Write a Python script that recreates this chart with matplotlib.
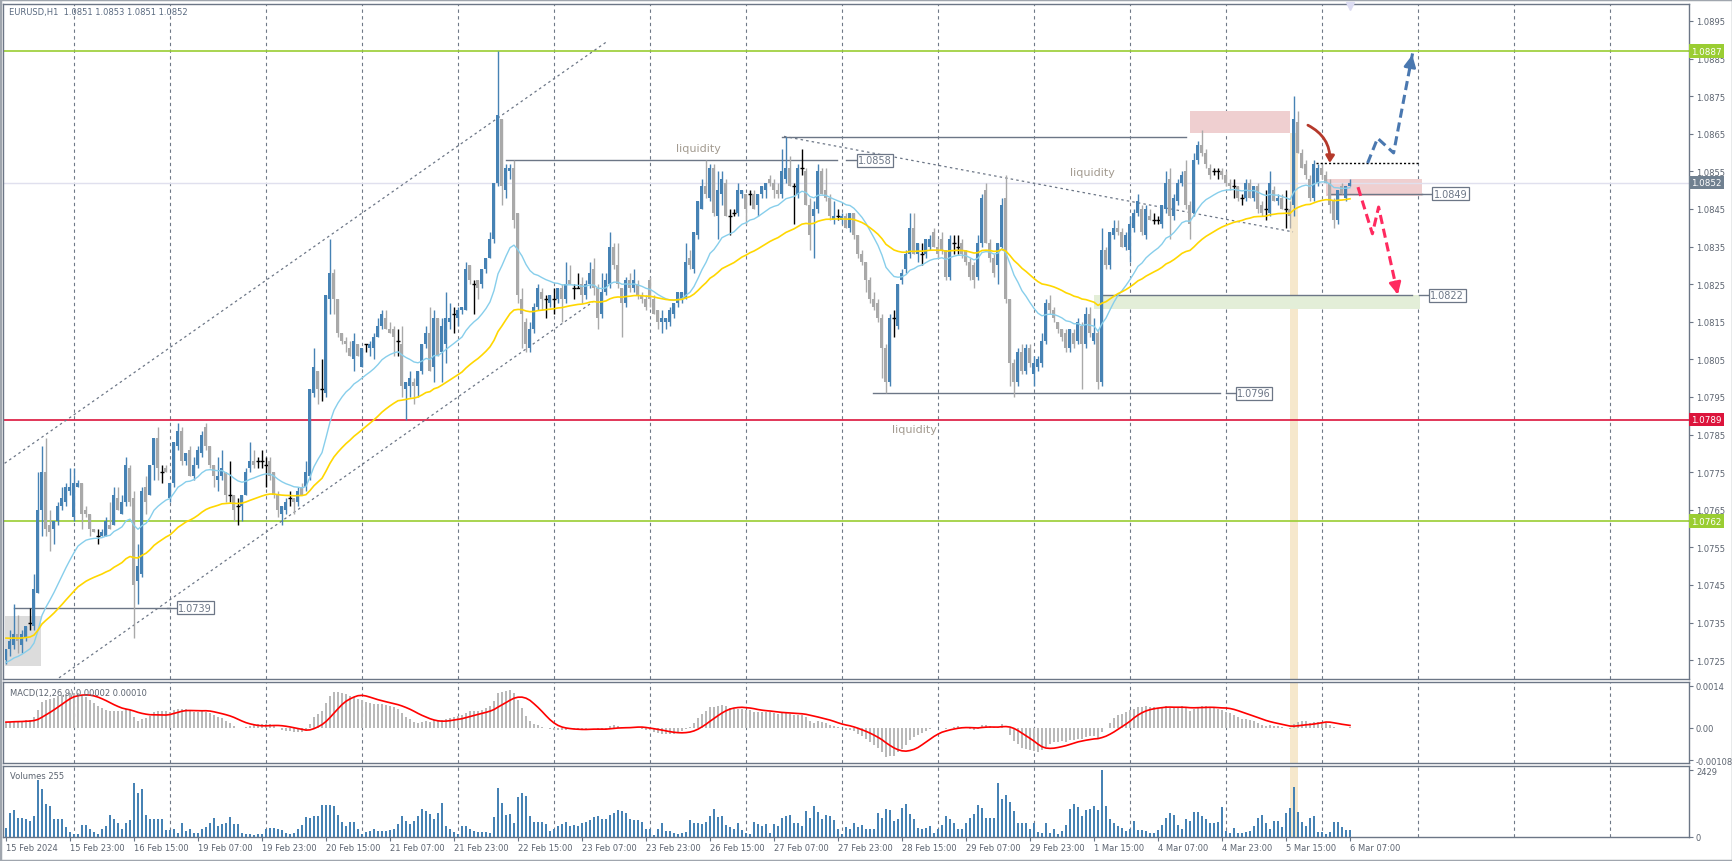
import numpy as np
import pandas as pd
import matplotlib
matplotlib.use('Agg')
import matplotlib.pyplot as plt
from matplotlib.patches import Rectangle, FancyArrowPatch

# EURUSD H1 candles, values in pips above 1.0700
BASE = 1.07
PIP = 0.0001
o_pips = [25,28,29,32,29,31,35,34,43,65, 75,61,60,62,66,67,70,63,71,72,
          65,64,60,58,58,58,61,61,68,64, 67,76,68,46,48,71,69,77,84,75,
          76,68,72,82,86,78,81,74,77,80, 87,82,77,73,74,75,69,69,66,66,
          69,76,78,78,78,77,78,75,69,64, 65,68,68,67,71,71,74,96,102,97,
          96,121,128,121,112,110,108,105,109,103, 109,108,108,111,114,116,113,113,110,109,
          97,98,99,98,102,109,112,103,116,107, 109,115,117,116,118,118,130,125,126,125,
          129,132,137,152,169,150,155,156,144,121, 115,108,113,119,123,121,120,121,121,124,
          121,126,124,124,125,122,125,129,124,117, 123,125,135,130,124,120,126,124,125,122,
          121,126,121,118,115,115,115,117,120,121, 121,132,129,138,145,151,148,156,143,149,
          152,143,144,144,149,149,149,149,146,149, 150,153,152,150,149,153,156,151,149,156,
          155,146,143,145,155,150,148,142,143,142, 143,140,144,138,133,131,126,121,120,116,
          108,99,116,114,126,129,133,140,133,133, 133,135,139,135,137,134,127,136,135,136,
          134,131,130,127,136,150,136,132,130,135, 148,121,104,99,107,102,108,101,103,104,
          110,120,118,115,113,112,108,112,110,114, 109,117,110,112,99,134,130,138,140,139,
          135,134,140,144,145,138,143,142,142,141, 145,153,143,147,152,155,146,144,158,162,
          160,156,155,155,155,154,152,151,151,148, 148,152,148,151,146,145,144,150,147,148,
          145,145,146,168,160,157,153,148,152,156, 154,152,147,142,151,148,151]
h_pips = [28,33,40,37,33,34,39,48,75,82, 84,65,62,67,71,72,76,76,73,72,
          66,64,60,60,60,63,67,71,71,69, 79,77,70,56,71,74,77,84,87,77,
          77,72,83,88,87,80,82,79,82,86, 88,82,77,79,81,75,78,69,68,69,
          76,83,81,79,81,79,79,75,70,66, 68,70,68,71,72,78,97,108,102,105,
          122,137,129,121,112,111,110,112,109,108, 109,110,112,116,118,118,115,114,113,114,
          99,102,100,102,109,114,119,118,116,116, 123,120,119,119,119,131,130,126,126,129,
          132,139,152,187,169,157,157,158,144,124, 116,115,120,125,124,122,122,124,124,125,
          131,130,125,128,127,126,131,132,125,128, 128,139,136,136,124,127,128,129,126,123,
          122,127,122,118,118,116,119,120,123,123, 136,134,139,147,153,158,157,157,155,155,
          153,145,145,152,150,149,150,150,149,151, 152,154,153,152,161,164,159,152,157,161,
          156,148,147,157,156,156,149,147,145,144, 144,144,144,138,134,131,127,123,121,117,
          109,117,118,125,129,134,144,144,136,136, 137,138,140,137,139,134,138,138,138,137,
          134,132,131,138,149,152,137,133,136,148, 154,121,105,108,109,109,109,106,106,112,
          121,122,119,115,113,113,113,113,116,115, 119,119,116,113,140,135,139,142,142,140,
          139,143,145,149,146,146,145,144,143,146, 155,156,149,153,155,158,147,160,163,166,
          161,157,156,156,156,155,153,153,151,149, 153,153,151,152,147,150,155,151,149,149,
          150,147,175,171,161,158,154,158,157,157, 155,153,148,150,152,151,153]
l_pips = [24,26,28,27,27,30,33,33,43,58, 58,54,56,61,65,66,69,62,71,60,
          63,58,59,56,58,58,60,61,65,64, 66,66,31,40,47,64,69,73,73,72,
          75,67,71,81,77,77,74,73,76,79, 81,76,71,70,73,67,67,62,61,62,
          69,75,76,76,76,71,73,68,63,61, 64,66,64,66,69,70,73,95,93,94,
          95,117,117,111,109,107,106,102,106,103, 107,106,105,111,113,113,112,106,106,95,
          89,95,93,95,101,108,102,99,106,99, 104,113,112,114,117,118,125,117,121,124,
          128,132,136,151,146,148,153,140,120,108, 107,107,112,118,118,116,119,117,120,115,
          120,125,121,124,120,121,124,122,113,116, 122,124,129,124,111,119,123,123,121,120,
          118,119,117,113,112,113,114,116,119,120, 121,129,128,137,145,148,147,143,137,146,
          143,138,143,143,148,141,146,145,143,148, 148,151,148,148,148,152,151,141,148,154,
          146,134,132,144,149,147,142,141,142,141, 140,139,137,132,130,123,120,118,115,100,
          96,98,111,113,125,128,132,133,131,130, 132,134,135,132,133,126,126,133,133,132,
          130,126,124,126,135,136,131,127,125,134, 120,98,95,98,101,101,103,98,102,103,
          109,117,115,112,110,107,107,108,109,97, 108,111,109,97,98,129,129,137,138,135,
          134,131,139,143,138,137,142,141,141,140, 144,137,142,146,151,145,137,143,157,159,
          156,153,154,153,153,151,150,148,147,146, 147,148,147,144,143,142,143,147,146,145,
          140,140,143,160,156,153,147,147,151,153, 152,144,140,141,149,147,151]
c_pips = [28,30,32,30,32,34,35,44,65,75, 60,59,62,66,68,71,71,72,72,64,
          64,60,59,58,59,62,60,69,65,67, 77,67,45,50,70,67,77,84,76,75,
          75,72,83,86,78,80,74,77,81,85, 82,77,74,74,76,69,69,65,66,69,
          75,78,77,78,78,77,74,69,65,66, 67,68,67,70,69,75,97,103,97,97,
          122,128,121,112,110,109,106,110,106,108, 109,109,111,114,117,113,112,111,110,98,
          99,100,98,102,109,112,102,116,106,114, 116,116,117,118,119,129,126,125,124,129,
          132,137,152,170,151,156,156,142,122,117, 109,113,119,124,121,121,122,121,124,121,
          125,125,124,124,122,125,128,124,116,123, 126,135,130,125,120,126,124,126,122,121,
          119,121,117,115,116,116,118,120,123,123, 131,130,139,147,151,149,156,144,150,153,
          143,143,144,150,150,145,149,145,149,151, 152,152,150,149,155,156,151,151,156,156,
          146,138,145,155,149,148,143,143,143,143, 140,144,138,133,131,126,121,119,116,108,
          99,116,116,125,128,133,140,133,136,133, 137,137,135,133,134,127,137,136,135,133,
          131,127,126,136,148,136,132,128,136,146, 121,104,99,107,102,108,104,104,105,110,
          120,118,116,113,111,108,113,109,115,109, 117,112,112,99,134,130,139,140,139,135,
          138,141,144,147,139,145,142,142,142,146, 152,143,148,152,154,146,141,158,162,160,
          157,154,155,155,154,152,151,151,148,148, 152,148,151,145,144,145,152,147,148,145,
          145,143,169,160,156,154,148,157,156,154, 152,146,142,150,149,151,152]

volume = [339,883,980,678,678,641,581,762,2057,1750, 1186,1125,641,641,641,363,182,121,100,424,
          424,278,182,97,303,399,787,641,496,278, 496,605,1948,1585,1755,799,641,641,641,641,
          242,242,303,157,520,230,278,157,157,278, 363,520,702,399,460,520,726,484,460,157,
          121,121,61,97,97,278,339,339,303,242, 157,121,157,278,424,726,702,762,762,1150,
          1150,1150,1125,787,545,399,545,545,278,97, 182,218,278,218,218,218,242,278,460,762,
          581,460,581,762,1004,944,847,641,883,1222, 399,278,182,121,399,399,278,218,182,182,
          182,157,726,1791,1222,799,823,520,1452,1609, 1488,762,545,545,545,460,218,303,399,460,
          545,399,424,399,496,545,617,726,762,666, 666,787,883,980,944,883,641,617,605,557,
          278,278,61,278,496,218,218,157,121,157, 194,617,520,520,484,545,762,1004,726,762,
          424,363,303,496,254,157,121,545,460,399, 460,157,460,399,702,762,799,496,520,399,
          944,702,1125,920,641,799,762,617,303,97, 363,303,496,375,448,303,303,303,859,702,
          1004,968,581,641,1065,1186,823,641,339,303, 315,399,133,278,424,762,641,520,303,303,
          496,702,823,1150,1065,702,702,678,1948,1367, 1513,1271,944,520,520,520,303,496,194,157,
          520,157,303,109,230,424,1028,1186,1089,762, 968,1028,1125,968,2429,1125,641,520,399,339,
          218,278,581,242,254,218,133,157,254,424, 702,883,787,424,303,641,581,908,908,762,
          666,496,520,545,1089,218,133,327,133,157, 182,218,399,702,787,520,303,581,581,375,
          883,1065,1815,908,557,399,702,762,194,194, 97,194,545,557,363,254,255]

date_labels = ['15 Feb 2024', '15 Feb 23:00', '16 Feb 15:00', '19 Feb 07:00', '19 Feb 23:00',
               '20 Feb 15:00', '21 Feb 07:00', '21 Feb 23:00', '22 Feb 15:00', '23 Feb 07:00',
               '23 Feb 23:00', '26 Feb 15:00', '27 Feb 07:00', '27 Feb 23:00', '28 Feb 15:00',
               '29 Feb 07:00', '29 Feb 23:00', '1 Mar 15:00', '4 Mar 07:00', '4 Mar 23:00',
               '5 Mar 15:00', '6 Mar 07:00']
price_ticks = [1.0725, 1.0735, 1.0745, 1.0755, 1.0765, 1.0775, 1.0785, 1.0795, 1.0805,
               1.0815, 1.0825, 1.0835, 1.0845, 1.0855, 1.0865, 1.0875, 1.0885, 1.0895]

# moving average seeds (values of the lines at the first bar)
ema_fast_seed = 1.0724
ema_slow_seed = 1.0731
macd_seed12 = 1.0727
macd_seed26 = 1.0725

o_p = np.array(o_pips)
c_p = np.array(c_pips)
op = BASE + o_p * PIP
hi = BASE + np.array(h_pips) * PIP
lo = BASE + np.array(l_pips) * PIP
cl = BASE + c_p * PIP
vol = np.array(volume)
x = np.arange(len(cl))


def ema(values, period, seed):
    a = 2.0 / (period + 1)
    out = []
    e = seed
    for v in values:
        e = e + a * (v - e)
        out.append(e)
    return np.array(out)


ma_fast = ema(cl, 20, ema_fast_seed)
ma_slow = ema(cl, 50, ema_slow_seed)
macd = ema(cl, 12, macd_seed12) - ema(cl, 26, macd_seed26)
signal = pd.Series(macd).rolling(9, min_periods=1).mean().values

BLUE = '#4682b4'
GREY = '#a9a9a9'
FRAME = '#6c7686'
TXT = '#5c6470'
STRIPE = '#f6e8cc'
W, H = 1733, 862
XMIN, XMAX = -0.75, 420.75
YMIN, YMAX = 1.07200, 1.08995

fig = plt.figure(figsize=(W / 100, H / 100), dpi=100)
fig.patch.set_facecolor('white')
ax = fig.add_axes([3 / W, 1 - 680 / H, 1686 / W, 675 / H])
axm = fig.add_axes([3 / W, 1 - 764 / H, 1686 / W, 81 / H])
axv = fig.add_axes([3 / W, 1 - 838 / H, 1686 / W, 71 / H])

for a in (ax, axm, axv):
    a.set_xlim(XMIN, XMAX)
    for s in a.spines.values():
        s.set_color(FRAME)
        s.set_linewidth(1)
    a.yaxis.tick_right()
    a.tick_params(axis='y', direction='out', length=3, width=0.8, colors=FRAME,
                  labelsize=6, labelcolor=TXT, pad=2)
    a.tick_params(axis='x', bottom=False, labelbottom=False)
    for b in range(17, 421, 24):
        a.axvline(b, color='#6f7987', lw=0.8, ls=(0, (3, 3)), zorder=0.6)

# highlighted bar (orange column) in the lower panels
for a in (axm, axv):
    a.axvspan(321, 322.9, color=STRIPE, zorder=0.5, lw=0)

# ---- main price panel ----
ax.set_ylim(YMIN, YMAX)
ax.set_yticks(price_ticks)
ax.set_yticklabels(['%.4f' % p for p in price_ticks])

# zones
ax.add_patch(Rectangle((-0.35, 1.07235), 9.1, 0.00133, fc='#dcdcdc', ec='none', zorder=1))
ax.add_patch(Rectangle((296, 1.08652), 25, 0.00059, fc='#efcfd0', ec='none', zorder=1))
ax.add_patch(Rectangle((330, 1.08485), 24, 0.00045, fc='#efcfd0', ec='none', zorder=1))
ax.add_patch(Rectangle((272, 1.08184), 81.5, 0.00036, fc='#e3eed8', ec='none', zorder=1))
ax.add_patch(Rectangle((321, YMIN), 1.9, 1.08652 - YMIN, fc=STRIPE, ec='none', zorder=0.9))

# horizontal levels
ax.axhline(1.0852, color='#e0e0ee', lw=1, zorder=1.2)
ax.axhline(1.0887, color='#9acd32', lw=1.2, zorder=2)
ax.axhline(1.0789, color='#dc143c', lw=1.2, zorder=2)
ax.axhline(1.0762, color='#9acd32', lw=1.2, zorder=2)

# channel and trend lines (dotted)
dot = (0, (2, 2.5))
ax.plot([-1.5, 150.5], [1.07765, 1.08897], color=FRAME, lw=0.9, ls=dot, zorder=2)
ax.plot([13.25, 146.75], [1.07203, 1.08203], color=FRAME, lw=0.9, ls=dot, zorder=2)
ax.plot([194.5, 321.75], [1.08643, 1.08389], color=FRAME, lw=0.9, ls=dot, zorder=2)

# level lines with price tags
levels = [  # price, start bar, end bar, tag bar, text
    (1.0858, 125.0, 207.7, 212.7, '1.0858'),
    (1.0796, 216.8, 303.6, 307.5, '1.0796'),
    (1.0739, 1.9, 41.0, 42.8, '1.0739'),
    (1.0849, 330.5, 354.0, 356.6, '1.0849'),
    (1.0822, 274.0, 351.5, 355.8, '1.0822'),
]
for price, x0, x1, xt, txt in levels:
    ax.plot([x0, x1], [price, price], color=FRAME, lw=1, zorder=2)
    ax.plot([xt - 2.6, xt], [price, price], color=FRAME, lw=1, zorder=2)
    ax.text(xt + 0.3, price, txt, fontsize=7, color=FRAME, va='center', ha='left', zorder=8,
            bbox=dict(boxstyle='square,pad=0.15', fc='white', ec=FRAME, lw=0.9))
ax.plot([194.0, 295.0], [1.0864, 1.0864], color=FRAME, lw=1, zorder=2)

# candles
up = c_p > o_p
flat = c_p == o_p
col = np.where(up, BLUE, GREY)
m = ~flat
ax.vlines(x[m], lo[m], hi[m], colors=col[m], lw=1, zorder=3)
ax.bar(x[m], np.abs(cl - op)[m], bottom=np.minimum(op, cl)[m], width=0.75,
       color=col[m], linewidth=0, zorder=3.1)
ax.vlines(x[flat], lo[flat], hi[flat], colors='black', lw=1, zorder=3)
ax.hlines(cl[flat], x[flat] - 0.45, x[flat] + 0.45, colors='black', lw=1, zorder=3)

ax.plot(x, ma_fast, color='#87ceeb', lw=1, zorder=4)
ax.plot(x, ma_slow, color='#ffd700', lw=1.2, zorder=4)

# texts
for tx, ty in [(173, 1.08612), (271.5, 1.08548), (227.2, 1.07865)]:
    ax.text(tx, ty, 'liquidity', fontsize=8, color='#a39b90', ha='center', va='center', zorder=5)

# projections
ax.plot([327.5, 353.4], [1.08572, 1.08572], color='black', lw=1, ls=(0, (1.5, 1.5)), zorder=6)
ax.add_patch(FancyArrowPatch((324.85, 1.08676), (330.9, 1.08565), connectionstyle='arc3,rad=-0.35',
                             arrowstyle='-|>,head_length=4,head_width=2.5', color='#b5392b', lw=2, zorder=7))


def dashed_path(xs, ys, color):
    ax.plot(xs, ys, color=color, lw=2.2, ls=(0, (3, 1.6)), zorder=6)
    ax.annotate('', xy=(xs[-1], ys[-1]),
                xytext=(xs[-2] + 0.8 * (xs[-1] - xs[-2]), ys[-2] + 0.8 * (ys[-1] - ys[-2])),
                arrowprops=dict(arrowstyle='-|>,head_length=0.7,head_width=0.35', color=color,
                                lw=2, mutation_scale=10), zorder=7)


dashed_path([340.4, 342.9, 346.9, 351.7], [1.08572, 1.08638, 1.08599, 1.08867], '#4a78b0')
dashed_path([338.0, 341.6, 343.15, 348.1], [1.08508, 1.08384, 1.08455, 1.08215], '#ff2a5f')

# right side price tags
ytr = ax.get_yaxis_transform()
for price, txt, fc in [(1.0887, '1.0887', '#9acd32'), (1.0852, '1.0852', '#708090'),
                       (1.0789, '1.0789', '#dc143c'), (1.0762, '1.0762', '#9acd32')]:
    ax.text(1.0015, price, txt, transform=ytr, fontsize=6.3, color='white', va='center', ha='left',
            zorder=10, clip_on=False,
            bbox=dict(boxstyle='square,pad=0.25', fc=fc, ec='none'))

ax.plot([336], [1.0899], marker='v', color='#dcdcf2', ms=6, clip_on=False, zorder=9)

# ---- MACD panel ----
axm.set_ylim(-0.00117, 0.00153)
axm.bar(x, macd, width=0.7, color='#b9b9b9', linewidth=0, zorder=2)
axm.plot(x, signal, color='#ff0000', lw=1.2, zorder=3)
axm.set_yticks([0.0014, 0.0, -0.00108])
axm.set_yticklabels(['0.0014', '0.00', '-0.00108'])
axm.text(0.004, 0.93, 'MACD(12,26,9) 0.00002 0.00010', transform=axm.transAxes, fontsize=6,
         color=TXT, va='top', ha='left')

# ---- Volume panel ----
axv.set_ylim(0, 2575)
axv.bar(x, vol, width=0.7, color=BLUE, linewidth=0, zorder=2)
axv.set_yticks([2429, 0])
axv.set_yticklabels(['2429', '0'])
axv.text(0.004, 0.93, 'Volumes 255', transform=axv.transAxes, fontsize=6, color=TXT,
         va='top', ha='left')
axv.set_xticks(list(range(0, 337, 16)))
axv.set_xticklabels(date_labels)
axv.tick_params(axis='x', bottom=True, labelbottom=True, direction='out', length=3, width=0.8,
                colors=FRAME, labelsize=6, labelcolor=TXT, pad=1.5)
for lab in axv.get_xticklabels():
    lab.set_ha('left')

fig.text(9 / W, 1 - 12 / H, 'EURUSD,H1  1.0851 1.0853 1.0851 1.0852', fontsize=6, color='#5a6a80',
         va='center', ha='left')
fig.patches.append(Rectangle((0, 0), 1, 1, transform=fig.transFigure, fill=False,
                             ec='#a0a6ae', lw=2.5, zorder=0))

fig.savefig('out.png', dpi=100, facecolor='white')
